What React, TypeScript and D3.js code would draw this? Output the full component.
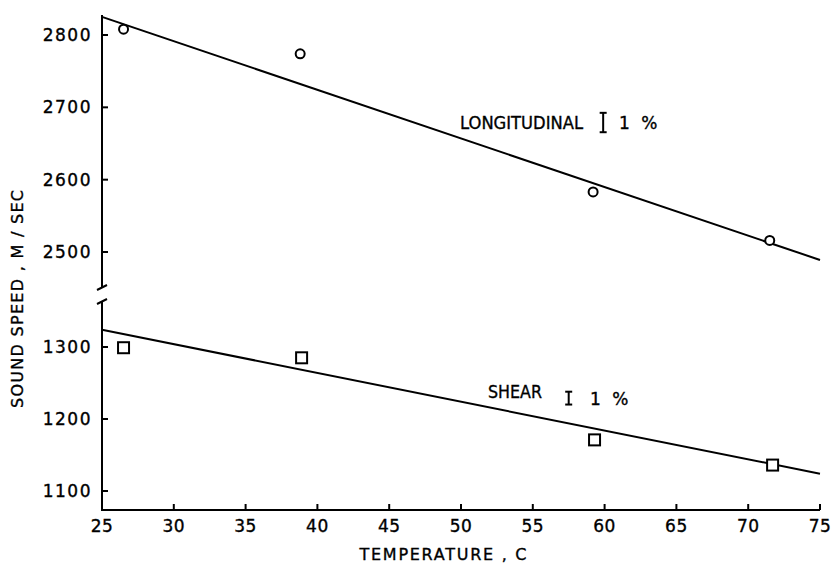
import React from "react";
import * as d3 from "d3";

const longTemps = [26.5, 38.8, 59.2, 71.5];
const longSpeeds = [2808, 2774, 2583, 2516];
const shearTemps = [26.5, 38.9, 59.3, 71.7];
const shearSpeeds = [1299, 1285, 1171, 1136];
const fitTemps = [25, 75];
const longFitSpeeds = [2825, 2489];
const shearFitSpeeds = [1324, 1124];
const xTicks = [25, 30, 35, 40, 45, 50, 55, 60, 65, 70, 75];
const upperTicks = [2500, 2600, 2700, 2800];
const lowerTicks = [1100, 1200, 1300];

const FONT = "DejaVu Sans, sans-serif";

export default function App() {
  const x = d3.scaleLinear().domain([25, 75]).range([102, 820]);
  const yU = d3.scaleLinear().domain([2500, 2800]).range([252, 35]);
  const yL = d3.scaleLinear().domain([1100, 1300]).range([491, 347]);
  const upperTop = 15, upperBot = 287, lowerTop = 301, bottom = 510;
  const x0 = x(25);

  const lineU = d3.line<number>().x((t) => x(t)).y((_, i) => yU(longFitSpeeds[i]));
  const lineL = d3.line<number>().x((t) => x(t)).y((_, i) => yL(shearFitSpeeds[i]));

  const ibeam = (cx: number, y1: number, y2: number) => (
    <g stroke="#000" strokeWidth={2}>
      <line x1={cx} x2={cx} y1={y1} y2={y2} />
      <line x1={cx - 3.5} x2={cx + 3.5} y1={y1} y2={y1} />
      <line x1={cx - 3.5} x2={cx + 3.5} y1={y2} y2={y2} />
    </g>
  );

  const lc = 2679, sc = 1229;
  const txt = { stroke: "#000", strokeWidth: 0.35, fill: "#000" };

  return (
    <svg width={832} height={569} style={{ position: "absolute", left: 0, top: 0, background: "#fff" }} fontFamily={FONT}>
      <rect width={832} height={569} fill="#fff" />
      <g stroke="#000" strokeWidth={2} fill="none">
        <line x1={x0} x2={x0} y1={upperTop} y2={upperBot} />
        <line x1={x0} x2={x0} y1={lowerTop} y2={bottom} />
        <line x1={x0 - 1} x2={x(75)} y1={bottom} y2={bottom} />
        <line x1={x0 - 5} x2={x0 + 5} y1={upperBot + 3} y2={upperBot - 2} />
        <line x1={x0 - 5} x2={x0 + 5} y1={lowerTop + 3} y2={lowerTop - 2} />
      </g>
      {xTicks.map((t) => (
        <g key={t}>
          {t !== 25 && <line x1={x(t)} x2={x(t)} y1={bottom} y2={bottom - 6} stroke="#000" strokeWidth={2} />}
          <text x={x(t)} y={532} textAnchor="middle" fontSize={17} letterSpacing={0.5} {...txt}>{t}</text>
        </g>
      ))}
      {upperTicks.map((v) => (
        <g key={v}>
          <line x1={x0} x2={x0 + 6} y1={yU(v)} y2={yU(v)} stroke="#000" strokeWidth={2} />
          <text x={92} y={yU(v) + 6} textAnchor="end" fontSize={17} letterSpacing={1.5} {...txt}>{v}</text>
        </g>
      ))}
      {lowerTicks.map((v) => (
        <g key={v}>
          <line x1={x0} x2={x0 + 6} y1={yL(v)} y2={yL(v)} stroke="#000" strokeWidth={2} />
          <text x={92} y={yL(v) + 6} textAnchor="end" fontSize={17} letterSpacing={1.5} {...txt}>{v}</text>
        </g>
      ))}
      <path d={lineU(fitTemps) || ""} stroke="#000" strokeWidth={2} fill="none" />
      <path d={lineL(fitTemps) || ""} stroke="#000" strokeWidth={2} fill="none" />
      {longTemps.map((t, i) => (
        <circle key={i} cx={x(t)} cy={yU(longSpeeds[i])} r={4.5} fill="#fff" stroke="#000" strokeWidth={2} />
      ))}
      {shearTemps.map((t, i) => (
        <rect key={i} x={x(t) - 5.5} y={yL(shearSpeeds[i]) - 5.5} width={11} height={11} fill="#fff" stroke="#000" strokeWidth={2} />
      ))}
      <text x={460} y={129} fontSize={17} textLength={123} lengthAdjust="spacingAndGlyphs" {...txt}>LONGITUDINAL</text>
      {ibeam(x(59.9), yU(lc * 1.005), yU(lc * 0.995))}
      <text x={619} y={129} fontSize={17} letterSpacing={3} {...txt}>1 %</text>
      <text x={488} y={398} fontSize={17} textLength={54} lengthAdjust="spacingAndGlyphs" {...txt}>SHEAR</text>
      {ibeam(x(57.5), yL(sc * 1.005) - 2, yL(sc * 0.995) + 2)}
      <text x={590} y={405} fontSize={17} letterSpacing={3} {...txt}>1 %</text>
      <text x={443} y={560} textAnchor="middle" fontSize={16} textLength={167} lengthAdjust="spacing" {...txt}>TEMPERATURE , C</text>
      <text transform="translate(23,299) rotate(-90)" textAnchor="middle" fontSize={16} textLength={218} lengthAdjust="spacing" {...txt}>SOUND SPEED , M / SEC</text>
    </svg>
  );
}
